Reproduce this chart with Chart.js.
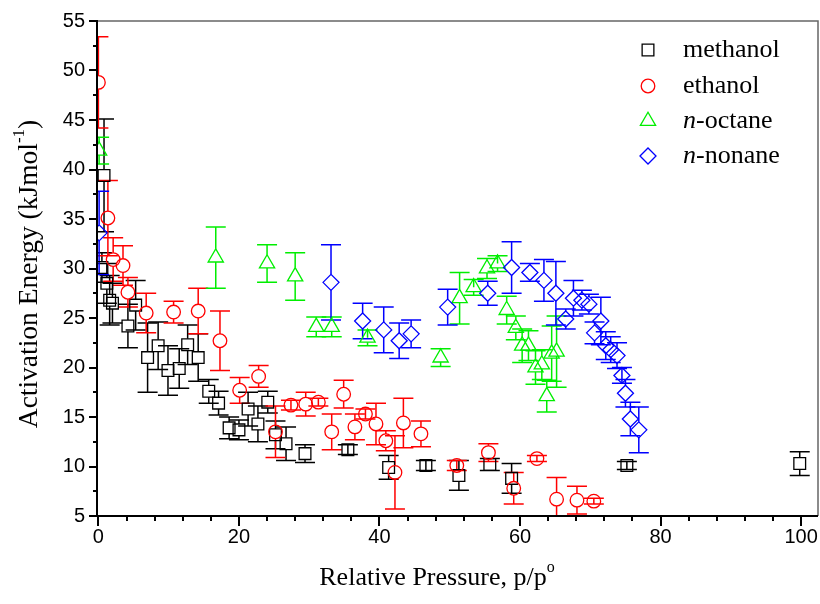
<!DOCTYPE html>
<html><head><meta charset="utf-8">
<script src="https://cdn.jsdelivr.net/npm/chart.js@4.4.1/dist/chart.umd.min.js"></script>
<style>html,body{margin:0;padding:0;background:#fff;}#wrap{width:820px;height:604px;position:relative;}</style>
</head><body><div id="wrap"><canvas id="c" width="820" height="604"></canvas></div>
<script>
// ---- data ----
const methanolX   = [0.5, 0.8, 1.2, 1.6, 2.0, 4.2, 5.3, 7.0, 8.5, 9.9, 11.5, 12.7, 14.2, 15.7, 17.1, 18.6, 20.0, 21.3, 22.7, 24.1, 25.2, 26.7, 29.4, 35.5, 41.3, 46.6, 51.3, 55.7, 58.8, 75.2, 99.8];
const methanolY   = [30.1, 39.4, 28.5, 26.8, 26.5, 24.2, 26.3, 21.0, 22.2, 19.7, 19.9, 22.3, 21.0, 17.6, 16.4, 13.9, 13.7, 15.8, 14.3, 16.5, 13.2, 12.3, 11.3, 11.7, 9.9, 10.1, 9.1, 10.2, 8.8, 10.1, 10.3];
const methanolErr = [1.5, 5.7, 2.0, 2.5, 2.0, 2.2, 2.5, 3.5, 2.4, 2.5, 2.0, 2.0, 2.4, 1.2, 1.2, 1.1, 1.0, 1.7, 1.8, 1.1, 1.4, 1.7, 0.9, 0.5, 1.2, 0.5, 1.5, 0.6, 1.5, 0.4, 1.2];

const ethanolX   = [0.0, 1.35, 2.1, 3.5, 4.2, 6.8, 10.7, 14.2, 17.3, 20.1, 22.8, 25.2, 27.4, 29.5, 31.3, 33.2, 34.9, 36.5, 38.0, 39.5, 40.9, 42.2, 43.4, 45.9, 51.0, 55.5, 59.1, 62.4, 65.2, 68.1, 70.5];
const ethanolY   = [48.8, 35.1, 30.9, 30.3, 27.6, 25.5, 25.6, 25.7, 22.7, 17.7, 19.1, 13.5, 16.2, 16.3, 16.5, 13.5, 17.3, 14.0, 15.3, 14.3, 12.6, 9.4, 14.4, 13.3, 10.1, 11.4, 7.8, 10.8, 6.7, 6.6, 6.5];
const ethanolErr = [4.6, 3.8, 2.2, 2.0, 1.5, 2.0, 1.1, 2.3, 3.0, 1.3, 1.1, 2.6, 0.5, 1.2, 0.4, 1.8, 1.4, 1.3, 0.5, 2.1, 1.0, 3.7, 2.5, 1.3, 0.5, 0.9, 1.6, 0.3, 2.2, 1.4, 0.3];

const octaneX   = [0.1, 16.7, 24.0, 28.0, 31.0, 33.2, 38.3, 48.7, 51.4, 53.4, 55.3, 56.8, 58.1, 59.4, 60.3, 61.2, 62.2, 63.1, 63.8, 64.5, 65.2];
const octaneY   = [41.9, 31.1, 30.5, 29.2, 24.1, 24.1, 23.0, 21.0, 27.0, 28.1, 30.0, 30.5, 25.8, 24.0, 22.2, 22.2, 20.0, 20.3, 17.1, 21.4, 21.6];
const octaneErr = [1.35, 3.1, 1.9, 2.4, 1.0, 1.0, 0.8, 0.9, 2.6, 0.8, 1.0, 0.8, 1.4, 1.2, 1.7, 1.5, 1.7, 1.5, 1.6, 2.8, 3.6];

const nonaneX   = [0.1, 33.1, 37.6, 40.6, 42.8, 44.5, 49.7, 55.4, 58.8, 61.4, 63.4, 65.1, 66.5, 67.6, 68.8, 69.8, 70.6, 71.5, 72.2, 72.9, 73.8, 74.5, 75.0, 75.7, 76.9];
const nonaneY   = [33.6, 28.6, 24.7, 23.8, 22.7, 23.4, 26.1, 27.5, 30.1, 29.6, 28.8, 27.5, 24.9, 27.0, 26.8, 26.4, 23.5, 24.7, 22.2, 21.8, 21.2, 19.2, 17.4, 14.8, 13.7];
const nonaneErr = [4.2, 3.8, 1.8, 2.3, 1.8, 1.4, 1.8, 1.2, 2.6, 0.9, 2.1, 3.2, 1.0, 1.8, 1.0, 1.0, 1.1, 2.4, 1.4, 1.3, 1.3, 0.8, 1.4, 1.7, 2.3];

const seriesLabels = ['methanol', 'ethanol', 'n-octane', 'n-nonane'];
const xTickValues = [0, 20, 40, 60, 80, 100];
const yTickValues = [5, 10, 15, 20, 25, 30, 35, 40, 45, 50, 55];

// ---- styling ----
const SERIF = '"Liberation Serif", "Times New Roman", serif';
const SANS = '"Liberation Sans", Arial, sans-serif';
const styles = [
  {color: '#000000', shape: 'rect',     r: 8.3, gapT: 5.9, gapB: 5.9},
  {color: '#ff0000', shape: 'circle',   r: 6.8, gapT: 6.8, gapB: 6.8},
  {color: '#00ee00', shape: 'triangle', r: 8.8, gapT: 8.8, gapB: 4.4},
  {color: '#0000ff', shape: 'rectRot',  r: 8,   gapT: 8,   gapB: 8}
];
const pts = (xs, ys) => xs.map((x, i) => ({x: x, y: ys[i]}));
const seriesData = [
  [methanolX, methanolY, methanolErr],
  [ethanolX, ethanolY, ethanolErr],
  [octaneX, octaneY, octaneErr],
  [nonaneX, nonaneY, nonaneErr]
];
const datasets = seriesData.map((s, k) => ({
  label: seriesLabels[k],
  data: pts(s[0], s[1]),
  errors: s[2],
  gapT: styles[k].gapT, gapB: styles[k].gapB,
  showLine: false,
  pointStyle: styles[k].shape,
  pointRadius: styles[k].r,
  pointHoverRadius: styles[k].r,
  pointBorderWidth: 1.3,
  borderColor: styles[k].color,
  backgroundColor: 'rgba(0,0,0,0)',
  clip: 0,
  order: 3 - k
}));

function drawMarker(ctx, shape, x, y, r) {
  ctx.beginPath();
  if (shape === 'rect') {
    const h = r * Math.SQRT1_2; ctx.rect(x - h, y - h, 2 * h, 2 * h);
  } else if (shape === 'circle') {
    ctx.arc(x, y, r, 0, Math.PI * 2);
  } else if (shape === 'triangle') {
    ctx.moveTo(x, y - r);
    ctx.lineTo(x + r * Math.sin(2 * Math.PI / 3), y - r * Math.cos(2 * Math.PI / 3));
    ctx.lineTo(x + r * Math.sin(4 * Math.PI / 3), y - r * Math.cos(4 * Math.PI / 3));
    ctx.closePath();
  } else {
    ctx.moveTo(x - r, y); ctx.lineTo(x, y - r); ctx.lineTo(x + r, y); ctx.lineTo(x, y + r); ctx.closePath();
  }
  ctx.stroke();
}

const errorBarPlugin = {
  id: 'errorBars',
  beforeDatasetsDraw(chart) {
    const {ctx, chartArea: a} = chart;
    const xs = chart.scales.x, ys = chart.scales.y;
    ctx.save();
    ctx.beginPath(); ctx.rect(a.left, a.top, a.right - a.left, a.bottom - a.top); ctx.clip();
    ctx.lineWidth = 1.5;
    chart.data.datasets.forEach(ds => {
      ctx.strokeStyle = ds.borderColor;
      ds.data.forEach((p, i) => {
        const e = ds.errors[i];
        const px = xs.getPixelForValue(p.x);
        const py = ys.getPixelForValue(p.y);
        const top = ys.getPixelForValue(p.y + e);
        const bot = ys.getPixelForValue(p.y - e);
        ctx.beginPath();
        if (py - top > ds.gapT) { ctx.moveTo(px, top); ctx.lineTo(px, py - ds.gapT); }
        else { ctx.moveTo(px, top); ctx.lineTo(px, py); }
        if (bot - py > ds.gapB) { ctx.moveTo(px, py + ds.gapB); ctx.lineTo(px, bot); }
        else { ctx.moveTo(px, py); ctx.lineTo(px, bot); }
        ctx.moveTo(px - 10, top); ctx.lineTo(px + 10, top);
        ctx.moveTo(px - 10, bot); ctx.lineTo(px + 10, bot);
        ctx.stroke();
      });
    });
    ctx.restore();
  }
};

const framePlugin = {
  id: 'frame',
  afterDraw(chart) {
    const {ctx, chartArea: a} = chart;
    const xs = chart.scales.x, ys = chart.scales.y;
    ctx.save();
    ctx.strokeStyle = '#666'; ctx.lineWidth = 1.5;
    ctx.beginPath(); ctx.moveTo(a.left, a.top); ctx.lineTo(a.right, a.top); ctx.lineTo(a.right, a.bottom); ctx.stroke();
    ctx.strokeStyle = '#000'; ctx.lineWidth = 2;
    ctx.beginPath(); ctx.moveTo(a.left, a.top - 1); ctx.lineTo(a.left, a.bottom); ctx.lineTo(a.right, a.bottom); ctx.stroke();
    for (let v = 0; v <= 100; v += 4) {
      const px = Math.round(xs.getPixelForValue(v));
      const len = (v % 20 === 0) ? 10 : 5;
      ctx.beginPath(); ctx.moveTo(px, a.bottom); ctx.lineTo(px, a.bottom + len); ctx.stroke();
    }
    for (let v = 5; v <= 55; v += 2.5) {
      const py = Math.round(ys.getPixelForValue(v));
      const len = (v % 5 === 0) ? 8 : 4;
      ctx.beginPath(); ctx.moveTo(a.left, py); ctx.lineTo(a.left - len, py); ctx.stroke();
    }
    ctx.restore();
  }
};

function drawParts(ctx, parts, x, y) {
  parts.forEach(p => {
    ctx.font = p.font;
    ctx.fillText(p.t, x, y + (p.dy || 0));
    x += ctx.measureText(p.t).width;
  });
  return x;
}
function partsWidth(ctx, parts) {
  let w = 0;
  parts.forEach(p => { ctx.font = p.font; w += ctx.measureText(p.t).width; });
  return w;
}

const textPlugin = {
  id: 'texts',
  afterDraw(chart) {
    const ctx = chart.ctx;
    ctx.save();
    ctx.fillStyle = '#000';
    ctx.textBaseline = 'middle';
    ctx.textAlign = 'left';
    const F = '26px ' + SERIF, FS = '16px ' + SERIF, FI = 'italic 26px ' + SERIF;
    const FY = '27.5px ' + SERIF, FYS = '17px ' + SERIF;
    const rows = [
      [{t: 'methanol', font: F}],
      [{t: 'ethanol', font: F}],
      [{t: 'n', font: FI}, {t: '-octane', font: F}],
      [{t: 'n', font: FI}, {t: '-nonane', font: F}]
    ];
    const rowY = [50, 86, 121, 156];
    rows.forEach((parts, k) => {
      ctx.strokeStyle = styles[k].color; ctx.lineWidth = 1.3;
      drawMarker(ctx, styles[k].shape, 648, rowY[k], styles[k].r);
      drawParts(ctx, parts, 683, rowY[k]);
    });
    const xt = [{t: 'Relative Pressure, p/p', font: F}, {t: 'o', font: FS, dy: -10}];
    drawParts(ctx, xt, 437 - partsWidth(ctx, xt) / 2, 578);
    const yt = [{t: 'Activation Energy (kJmol', font: FY}, {t: '-1', font: FYS, dy: -10}, {t: ')', font: FY}];
    ctx.translate(30, 274);
    ctx.rotate(-Math.PI / 2);
    drawParts(ctx, yt, -partsWidth(ctx, yt) / 2, 0);
    ctx.restore();
  }
};

new Chart(document.getElementById('c'), {
  type: 'scatter',
  data: {datasets: datasets},
  options: {
    responsive: false,
    animation: false,
    devicePixelRatio: 1,
    layout: {autoPadding: false, padding: {top: 21, right: 2, left: 0, bottom: 0}},
    plugins: {legend: {display: false}, title: {display: false}, tooltip: {enabled: false}},
    scales: {
      x: {
        type: 'linear', min: -0.2, max: 102.4,
        afterBuildTicks: s => { s.ticks = xTickValues.map(v => ({value: v})); },
        afterFit: s => { s.height = 88; s.paddingLeft = 0; s.paddingRight = 0; },
        grid: {display: false, drawTicks: false},
        border: {display: false},
        ticks: {font: {family: SANS, size: 20}, color: '#000', padding: 9, maxRotation: 0, autoSkip: false}
      },
      y: {
        type: 'linear', min: 5, max: 55,
        afterBuildTicks: s => { s.ticks = yTickValues.map(v => ({value: v})); },
        afterFit: s => { s.width = 97; s.paddingTop = 0; s.paddingBottom = 0; },
        grid: {display: false, drawTicks: false},
        border: {display: false},
        ticks: {font: {family: SANS, size: 20}, color: '#000', padding: 12, autoSkip: false}
      }
    }
  },
  plugins: [errorBarPlugin, framePlugin, textPlugin]
});
</script></body></html>
